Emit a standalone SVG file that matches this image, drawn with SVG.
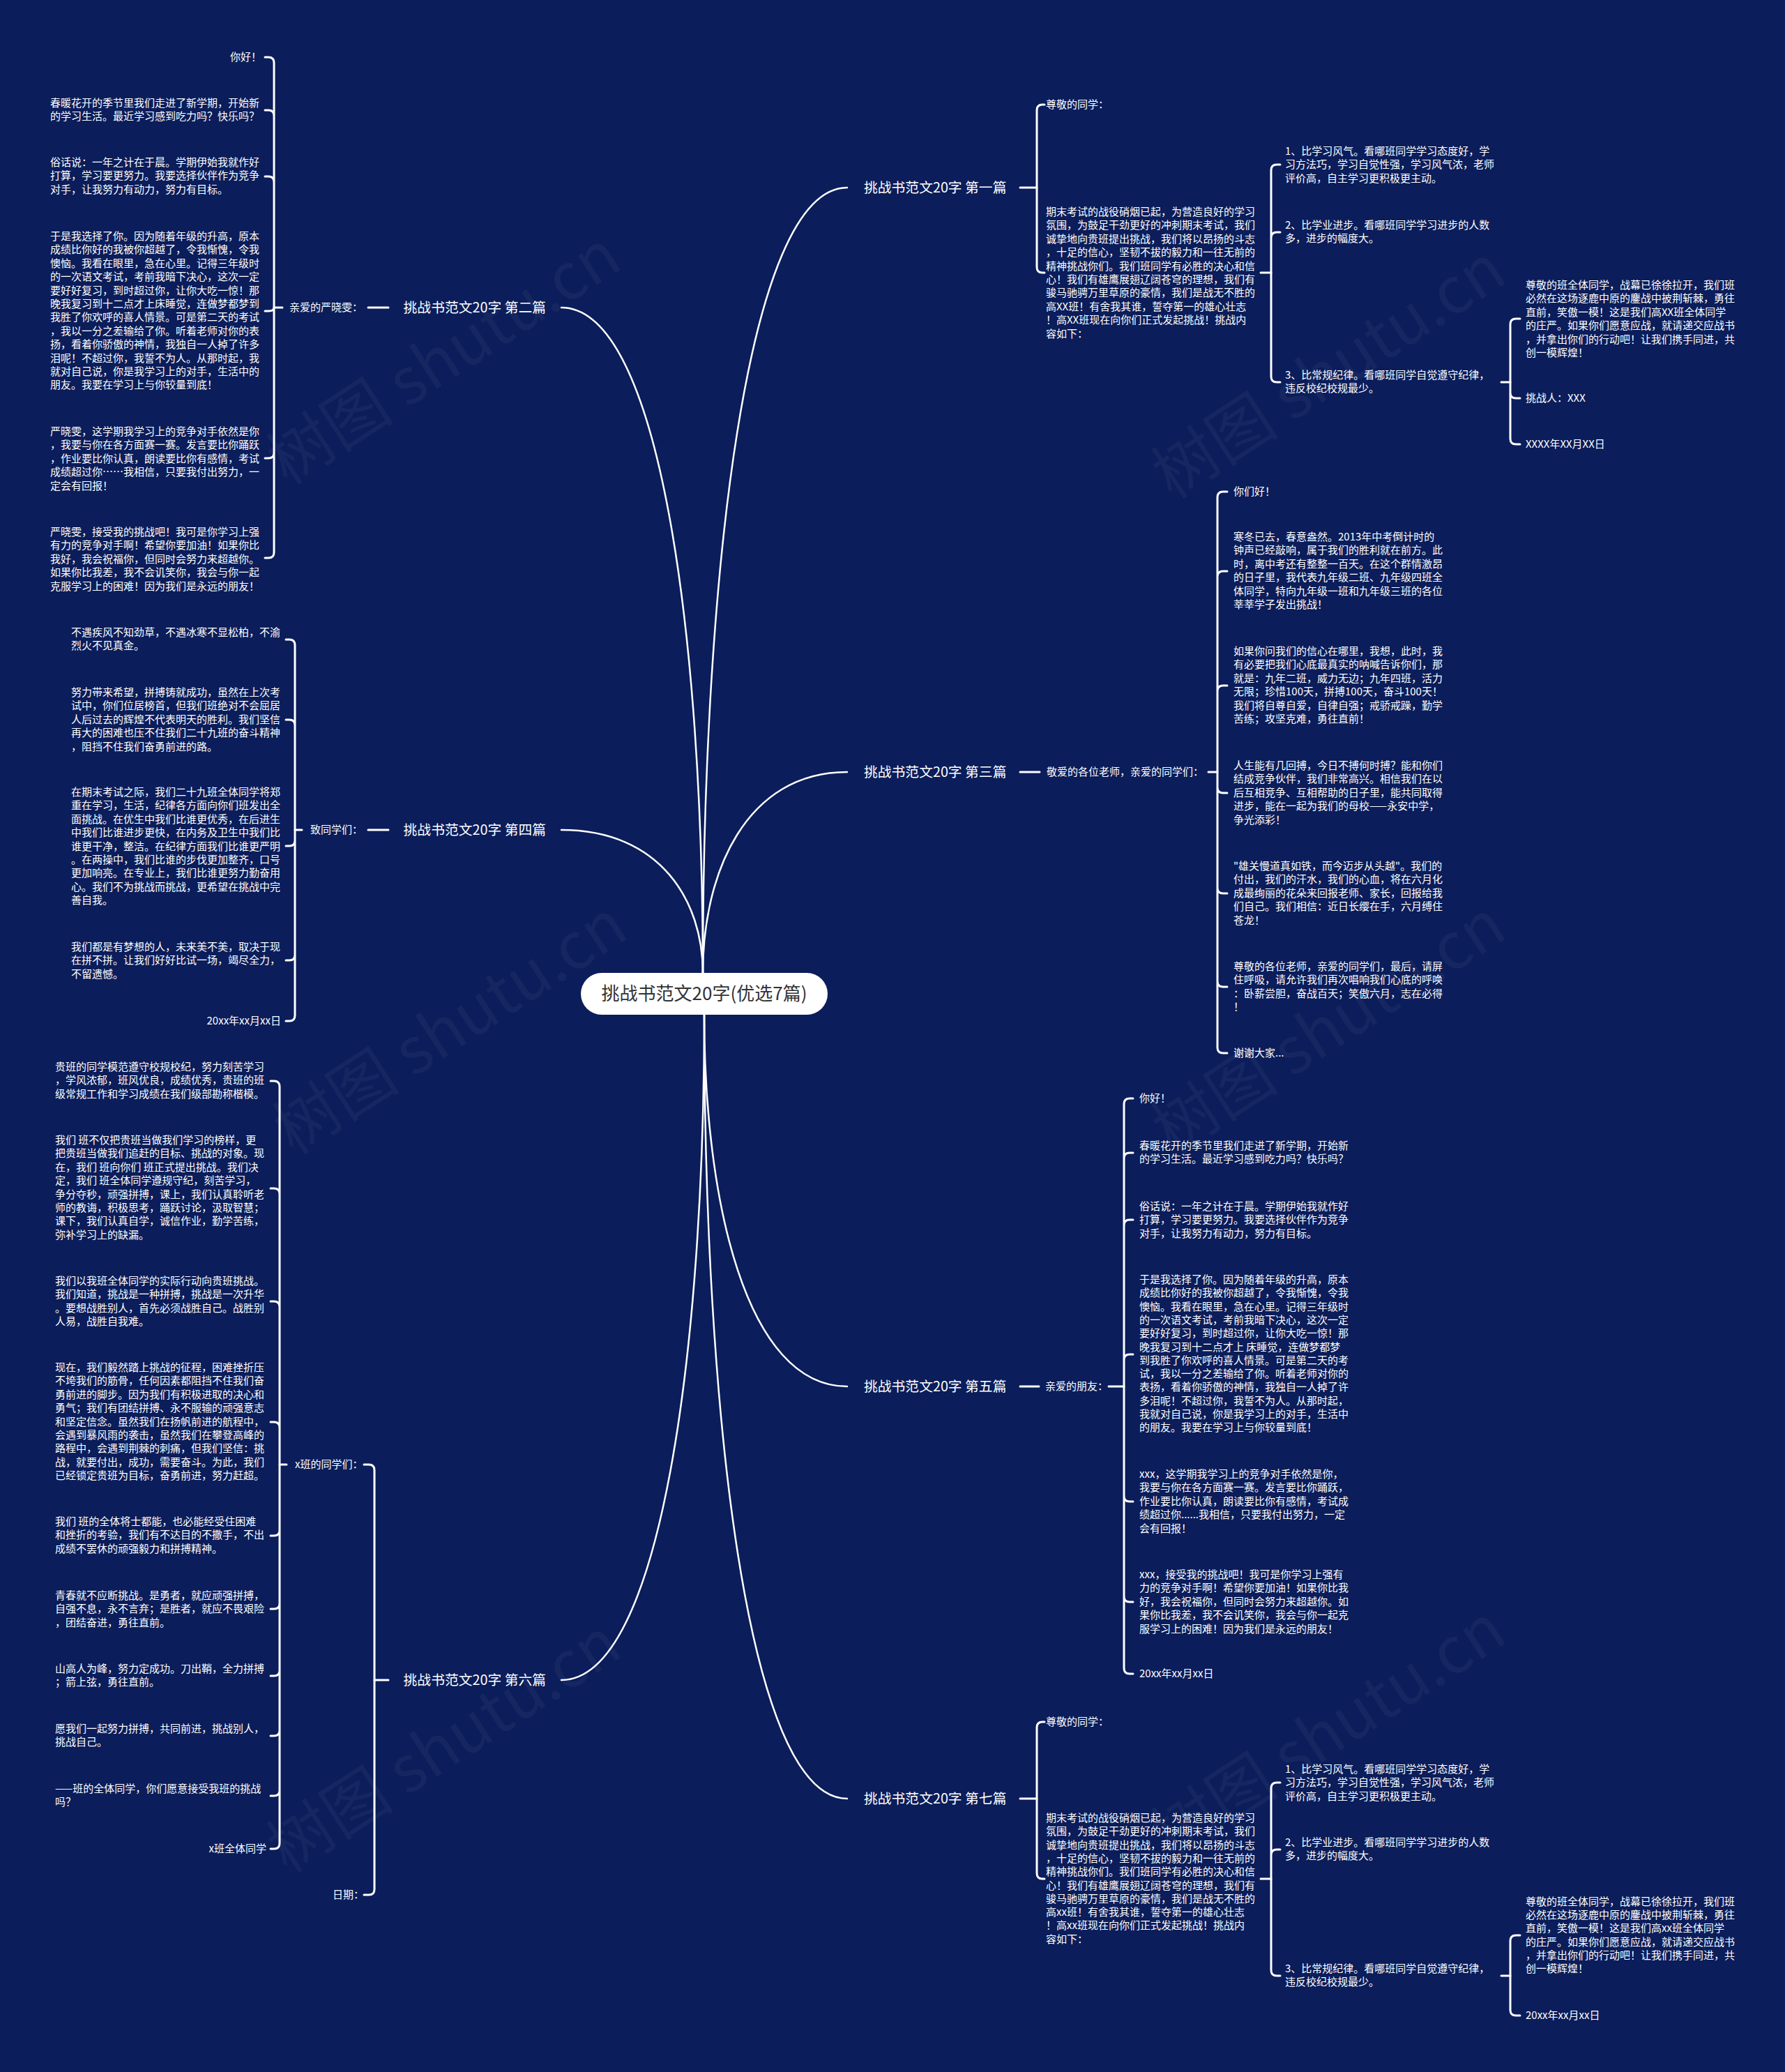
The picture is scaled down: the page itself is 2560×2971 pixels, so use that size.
<svg xmlns="http://www.w3.org/2000/svg" width="2560" height="2971" viewBox="0 0 2560 2971">
<style>
.t{font-family:"Noto Sans CJK SC","Noto Sans",sans-serif;font-size:15px;fill:#ffffff}
.e{text-anchor:end}
.b{font-family:"Noto Sans CJK SC","Noto Sans",sans-serif;font-size:19.8px;fill:#ffffff}
.ct{font-family:"Noto Sans CJK SC","Noto Sans",sans-serif;font-size:26px;fill:#333333;text-anchor:middle}
.wm{font-family:"Noto Sans CJK SC","Noto Sans",sans-serif;font-size:92px;fill:#ffffff;fill-opacity:0.045}
.m{fill:none;stroke:#ffffff;stroke-width:2.5;stroke-linecap:round}
.k{fill:none;stroke:#ffffff;stroke-width:3;stroke-linecap:round;stroke-linejoin:round}
</style>
<rect width="2560" height="2971" fill="#0b1d5a"/>
<g id="watermarks">
<text class="wm" transform="translate(654 540) rotate(-33)" text-anchor="middle">树图 shutu.cn</text>
<text class="wm" transform="translate(1923 560) rotate(-33)" text-anchor="middle">树图 shutu.cn</text>
<text class="wm" transform="translate(663 1500) rotate(-33)" text-anchor="middle">树图 shutu.cn</text>
<text class="wm" transform="translate(1923 1500) rotate(-33)" text-anchor="middle">树图 shutu.cn</text>
<text class="wm" transform="translate(654 2530) rotate(-33)" text-anchor="middle">树图 shutu.cn</text>
<text class="wm" transform="translate(1923 2510) rotate(-33)" text-anchor="middle">树图 shutu.cn</text>
</g>
<g id="connectors">
<path class="m" d="M1008 1395C1008 832 1070 269 1215 269"/>
<path class="m" d="M805 441C947 441 1008 918 1008 1395"/>
<path class="m" d="M1008 1395C1008 1251 1070 1107 1215 1107"/>
<path class="m" d="M805 1190C947 1190 1008 1292 1008 1395"/>
<path class="m" d="M1010 1455C1010 1722 1070 1988 1215 1988"/>
<path class="m" d="M805 2409C948 2409 1010 1932 1010 1455"/>
<path class="m" d="M1010 1455C1010 2017 1070 2579 1215 2579"/>
<path class="k" d="M528 441H557M393 441H405"/>
<path class="k" d="M393 441V90Q393 82 385 82H380M393 441V166Q393 158 385 158H380M393 441V261Q393 253 385 253H380M393 441Q393 446 385 446H380M393 441V649Q393 657 385 657H380M393 441V792Q393 800 385 800H380"/>
<path class="k" d="M528 1190H557M423 1190H433"/>
<path class="k" d="M423 1190V925Q423 917 415 917H410M423 1190V1040Q423 1032 415 1032H410M423 1190V1205Q423 1213 415 1213H410M423 1190V1369Q423 1377 415 1377H410M423 1190V1456Q423 1464 415 1464H410"/>
<path class="k" d="M537 2409H557M401 2100H411"/>
<path class="k" d="M537 2409V2108Q537 2100 529 2100H522M537 2409V2709Q537 2717 529 2717H522"/>
<path class="k" d="M401 2100V1558Q401 1550 393 1550H388M401 2100V1712Q401 1704 393 1704H388M401 2100V1874Q401 1866 393 1866H388M401 2100V2047Q401 2039 393 2039H388M401 2100V2194Q401 2202 393 2202H388M401 2100V2299Q401 2307 393 2307H388M401 2100V2395Q401 2403 393 2403H388M401 2100V2481Q401 2489 393 2489H388M401 2100V2567Q401 2575 393 2575H388M401 2100V2643Q401 2651 393 2651H388"/>
<path class="k" d="M1463 269H1487M1808 391H1823M2153 548H2166"/>
<path class="k" d="M1487 269V158Q1487 150 1495 150H1498M1487 269V383Q1487 391 1495 391H1498"/>
<path class="k" d="M1823 391V244Q1823 236 1831 236H1836M1823 391V341Q1823 333 1831 333H1836M1823 391V540Q1823 548 1831 548H1836"/>
<path class="k" d="M2166 548V465Q2166 457 2174 457H2180M2166 548V563Q2166 571 2174 571H2180M2166 548V629Q2166 637 2174 637H2180"/>
<path class="k" d="M1463 1107H1491M1733 1107H1746"/>
<path class="k" d="M1746 1107V713Q1746 705 1754 705H1760M1746 1107V827Q1746 819 1754 819H1760M1746 1107V991Q1746 983 1754 983H1760M1746 1107V1129Q1746 1137 1754 1137H1760M1746 1107V1273Q1746 1281 1754 1281H1760M1746 1107V1407Q1746 1415 1754 1415H1760M1746 1107V1502Q1746 1510 1754 1510H1760"/>
<path class="k" d="M1463 1988H1490M1590 1988H1612"/>
<path class="k" d="M1612 1988V1583Q1612 1575 1620 1575H1625M1612 1988V1661Q1612 1653 1620 1653H1625M1612 1988V1757Q1612 1749 1620 1749H1625M1612 1988V1950Q1612 1942 1620 1942H1625M1612 1988V2145Q1612 2153 1620 2153H1625M1612 1988V2289Q1612 2297 1620 2297H1625M1612 1988V2392Q1612 2400 1620 2400H1625"/>
<path class="k" d="M1463 2579H1487M1808 2694H1823M2153 2833H2166"/>
<path class="k" d="M1487 2579V2477Q1487 2469 1495 2469H1498M1487 2579V2686Q1487 2694 1495 2694H1498"/>
<path class="k" d="M1823 2694V2564Q1823 2556 1831 2556H1836M1823 2694V2660Q1823 2652 1831 2652H1836M1823 2694V2825Q1823 2833 1831 2833H1836"/>
<path class="k" d="M2166 2833V2783Q2166 2775 2174 2775H2180M2166 2833V2882Q2166 2890 2174 2890H2180"/>
</g>
<g id="center">
<rect x="833" y="1395" width="354" height="60" rx="30" fill="#ffffff"/>
<text class="ct" x="1010" y="1434">挑战书范文20字(优选7篇)</text>
</g>
<g id="branch1">
<text class="b" x="1239" y="276">挑战书范文20字 第一篇</text>
</g>
<g id="b1-n1"><text class="t" x="1500" y="155">尊敬的同学：</text></g>
<g id="b1-n2"><text class="t" x="1500" y="309"><tspan x="1500">期末考试的战役硝烟已起，为营造良好的学习</tspan><tspan x="1500" dy="19.4">氛围，为鼓足干劲更好的冲刺期末考试，我们</tspan><tspan x="1500" dy="19.4">诚挚地向贵班提出挑战，我们将以昂扬的斗志</tspan><tspan x="1500" dy="19.4">，十足的信心，坚韧不拔的毅力和一往无前的</tspan><tspan x="1500" dy="19.4">精神挑战你们。我们班同学有必胜的决心和信</tspan><tspan x="1500" dy="19.4">心！我们有雄鹰展翅辽阔苍穹的理想，我们有</tspan><tspan x="1500" dy="19.4">骏马驰骋万里草原的豪情，我们是战无不胜的</tspan><tspan x="1500" dy="19.4">高XX班！有舍我其谁，誓夺第一的雄心壮志</tspan><tspan x="1500" dy="19.4">！高XX班现在向你们正式发起挑战！挑战内</tspan><tspan x="1500" dy="19.4">容如下：</tspan></text></g>
<g id="b1-n3"><text class="t" x="1843" y="222"><tspan x="1843">1、比学习风气。看哪班同学学习态度好，学</tspan><tspan x="1843" dy="19.4">习方法巧，学习自觉性强，学习风气浓，老师</tspan><tspan x="1843" dy="19.4">评价高，自主学习更积极更主动。</tspan></text></g>
<g id="b1-n4"><text class="t" x="1843" y="328"><tspan x="1843">2、比学业进步。看哪班同学学习进步的人数</tspan><tspan x="1843" dy="19.4">多，进步的幅度大。</tspan></text></g>
<g id="b1-n5"><text class="t" x="1843" y="543"><tspan x="1843">3、比常规纪律。看哪班同学自觉遵守纪律，</tspan><tspan x="1843" dy="19.4">违反校纪校规最少。</tspan></text></g>
<g id="b1-n6"><text class="t" x="2188" y="414"><tspan x="2188">尊敬的班全体同学，战幕已徐徐拉开，我们班</tspan><tspan x="2188" dy="19.4">必然在这场逐鹿中原的鏖战中披荆斩棘，勇往</tspan><tspan x="2188" dy="19.4">直前，笑傲一模！这是我们高XX班全体同学</tspan><tspan x="2188" dy="19.4">的庄严。如果你们愿意应战，就请递交应战书</tspan><tspan x="2188" dy="19.4">，并拿出你们的行动吧！让我们携手同进，共</tspan><tspan x="2188" dy="19.4">创一模辉煌！</tspan></text></g>
<g id="b1-n7"><text class="t" x="2188" y="576">挑战人：XXX</text></g>
<g id="b1-n8"><text class="t" x="2188" y="642">XXXX年XX月XX日</text></g>
<g id="branch2">
<text class="b e" x="783" y="448">挑战书范文20字 第二篇</text>
</g>
<g id="b2-label"><text class="t" x="415" y="446">亲爱的严晓雯：</text></g>
<g id="b2-n1"><text class="t e" x="375" y="87">你好！</text></g>
<g id="b2-n2"><text class="t" x="72" y="153"><tspan x="72">春暖花开的季节里我们走进了新学期，开始新</tspan><tspan x="72" dy="19.4">的学习生活。最近学习感到吃力吗？快乐吗？</tspan></text></g>
<g id="b2-n3"><text class="t" x="72" y="238"><tspan x="72">俗话说：一年之计在于晨。学期伊始我就作好</tspan><tspan x="72" dy="19.4">打算，学习要更努力。我要选择伙伴作为竞争</tspan><tspan x="72" dy="19.4">对手，让我努力有动力，努力有目标。</tspan></text></g>
<g id="b2-n4"><text class="t" x="72" y="344"><tspan x="72">于是我选择了你。因为随着年级的升高，原本</tspan><tspan x="72" dy="19.4">成绩比你好的我被你超越了，令我惭愧，令我</tspan><tspan x="72" dy="19.4">懊恼。我看在眼里，急在心里。记得三年级时</tspan><tspan x="72" dy="19.4">的一次语文考试，考前我暗下决心，这次一定</tspan><tspan x="72" dy="19.4">要好好复习，到时超过你，让你大吃一惊！那</tspan><tspan x="72" dy="19.4">晚我复习到十二点才上床睡觉，连做梦都梦到</tspan><tspan x="72" dy="19.4">我胜了你欢呼的喜人情景。可是第二天的考试</tspan><tspan x="72" dy="19.4">，我以一分之差输给了你。听着老师对你的表</tspan><tspan x="72" dy="19.4">扬，看着你骄傲的神情，我独自一人掉了许多</tspan><tspan x="72" dy="19.4">泪呢！不超过你，我誓不为人。从那时起，我</tspan><tspan x="72" dy="19.4">就对自己说，你是我学习上的对手，生活中的</tspan><tspan x="72" dy="19.4">朋友。我要在学习上与你较量到底！</tspan></text></g>
<g id="b2-n5"><text class="t" x="72" y="624"><tspan x="72">严晓雯，这学期我学习上的竞争对手依然是你</tspan><tspan x="72" dy="19.4">，我要与你在各方面赛一赛。发言要比你踊跃</tspan><tspan x="72" dy="19.4">，作业要比你认真，朗读要比你有感情，考试</tspan><tspan x="72" dy="19.4">成绩超过你……我相信，只要我付出努力，一</tspan><tspan x="72" dy="19.4">定会有回报！</tspan></text></g>
<g id="b2-n6"><text class="t" x="72" y="768"><tspan x="72">严晓雯，接受我的挑战吧！我可是你学习上强</tspan><tspan x="72" dy="19.4">有力的竞争对手啊！希望你要加油！如果你比</tspan><tspan x="72" dy="19.4">我好，我会祝福你，但同时会努力来超越你。</tspan><tspan x="72" dy="19.4">如果你比我差，我不会讥笑你，我会与你一起</tspan><tspan x="72" dy="19.4">克服学习上的困难！因为我们是永远的朋友！</tspan></text></g>
<g id="branch3">
<text class="b" x="1239" y="1114">挑战书范文20字 第三篇</text>
</g>
<g id="b3-label"><text class="t" x="1501" y="1112">敬爱的各位老师，亲爱的同学们：</text></g>
<g id="b3-n1"><text class="t" x="1769" y="710">你们好！</text></g>
<g id="b3-n2"><text class="t" x="1769" y="775"><tspan x="1769">寒冬已去，春意盎然。2013年中考倒计时的</tspan><tspan x="1769" dy="19.4">钟声已经敲响，属于我们的胜利就在前方。此</tspan><tspan x="1769" dy="19.4">时，离中考还有整整一百天。在这个群情激昂</tspan><tspan x="1769" dy="19.4">的日子里，我代表九年级二班、九年级四班全</tspan><tspan x="1769" dy="19.4">体同学，特向九年级一班和九年级三班的各位</tspan><tspan x="1769" dy="19.4">莘莘学子发出挑战！</tspan></text></g>
<g id="b3-n3"><text class="t" x="1769" y="939"><tspan x="1769">如果你问我们的信心在哪里，我想，此时，我</tspan><tspan x="1769" dy="19.4">有必要把我们心底最真实的呐喊告诉你们，那</tspan><tspan x="1769" dy="19.4">就是：九年二班，威力无边；九年四班，活力</tspan><tspan x="1769" dy="19.4">无限；珍惜100天，拼搏100天，奋斗100天！</tspan><tspan x="1769" dy="19.4">我们将自尊自爱，自律自强；戒骄戒躁，勤学</tspan><tspan x="1769" dy="19.4">苦练；攻坚克难，勇往直前！</tspan></text></g>
<g id="b3-n4"><text class="t" x="1769" y="1103"><tspan x="1769">人生能有几回搏，今日不搏何时搏？能和你们</tspan><tspan x="1769" dy="19.4">结成竞争伙伴，我们非常高兴。相信我们在以</tspan><tspan x="1769" dy="19.4">后互相竞争、互相帮助的日子里，能共同取得</tspan><tspan x="1769" dy="19.4">进步，能在一起为我们的母校——永安中学，</tspan><tspan x="1769" dy="19.4">争光添彩！</tspan></text></g>
<g id="b3-n5"><text class="t" x="1769" y="1247"><tspan x="1769">"雄关慢道真如铁，而今迈步从头越"。我们的</tspan><tspan x="1769" dy="19.4">付出，我们的汗水，我们的心血，将在六月化</tspan><tspan x="1769" dy="19.4">成最绚丽的花朵来回报老师、家长，回报给我</tspan><tspan x="1769" dy="19.4">们自己。我们相信：近日长缨在手，六月缚住</tspan><tspan x="1769" dy="19.4">苍龙！</tspan></text></g>
<g id="b3-n6"><text class="t" x="1769" y="1391"><tspan x="1769">尊敬的各位老师，亲爱的同学们，最后，请屏</tspan><tspan x="1769" dy="19.4">住呼吸，请允许我们再次唱响我们心底的呼唤</tspan><tspan x="1769" dy="19.4">：卧薪尝胆，奋战百天；笑傲六月，志在必得</tspan><tspan x="1769" dy="19.4">！</tspan></text></g>
<g id="b3-n7"><text class="t" x="1769" y="1515">谢谢大家...</text></g>
<g id="branch4">
<text class="b e" x="783" y="1197">挑战书范文20字 第四篇</text>
</g>
<g id="b4-label"><text class="t" x="445" y="1195">致同学们：</text></g>
<g id="b4-n1"><text class="t" x="102" y="912"><tspan x="102">不遇疾风不知劲草，不遇冰寒不显松柏，不渝</tspan><tspan x="102" dy="19.4">烈火不见真金。</tspan></text></g>
<g id="b4-n2"><text class="t" x="102" y="998"><tspan x="102">努力带来希望，拼搏铸就成功，虽然在上次考</tspan><tspan x="102" dy="19.4">试中，你们位居榜首，但我们班绝对不会屈居</tspan><tspan x="102" dy="19.4">人后过去的辉煌不代表明天的胜利。我们坚信</tspan><tspan x="102" dy="19.4">再大的困难也压不住我们二十九班的奋斗精神</tspan><tspan x="102" dy="19.4">，阻挡不住我们奋勇前进的路。</tspan></text></g>
<g id="b4-n3"><text class="t" x="102" y="1141"><tspan x="102">在期末考试之际，我们二十九班全体同学将郑</tspan><tspan x="102" dy="19.4">重在学习，生活，纪律各方面向你们班发出全</tspan><tspan x="102" dy="19.4">面挑战。在优生中我们比谁更优秀，在后进生</tspan><tspan x="102" dy="19.4">中我们比谁进步更快，在内务及卫生中我们比</tspan><tspan x="102" dy="19.4">谁更干净，整洁。在纪律方面我们比谁更严明</tspan><tspan x="102" dy="19.4">。在两操中，我们比谁的步伐更加整齐，口号</tspan><tspan x="102" dy="19.4">更加响亮。在专业上，我们比谁更努力勤奋用</tspan><tspan x="102" dy="19.4">心。我们不为挑战而挑战，更希望在挑战中完</tspan><tspan x="102" dy="19.4">善自我。</tspan></text></g>
<g id="b4-n4"><text class="t" x="102" y="1363"><tspan x="102">我们都是有梦想的人，未来美不美，取决于现</tspan><tspan x="102" dy="19.4">在拼不拼。让我们好好比试一场，竭尽全力，</tspan><tspan x="102" dy="19.4">不留遗憾。</tspan></text></g>
<g id="b4-n5"><text class="t e" x="403" y="1469">20xx年xx月xx日</text></g>
<g id="branch5">
<text class="b" x="1239" y="1995">挑战书范文20字 第五篇</text>
</g>
<g id="b5-label"><text class="t" x="1499" y="1993">亲爱的朋友：</text></g>
<g id="b5-n1"><text class="t" x="1634" y="1580">你好！</text></g>
<g id="b5-n2"><text class="t" x="1634" y="1648"><tspan x="1634">春暖花开的季节里我们走进了新学期，开始新</tspan><tspan x="1634" dy="19.4">的学习生活。最近学习感到吃力吗？快乐吗？</tspan></text></g>
<g id="b5-n3"><text class="t" x="1634" y="1735"><tspan x="1634">俗话说：一年之计在于晨。学期伊始我就作好</tspan><tspan x="1634" dy="19.4">打算，学习要更努力。我要选择伙伴作为竞争</tspan><tspan x="1634" dy="19.4">对手，让我努力有动力，努力有目标。</tspan></text></g>
<g id="b5-n4"><text class="t" x="1634" y="1840"><tspan x="1634">于是我选择了你。因为随着年级的升高，原本</tspan><tspan x="1634" dy="19.3">成绩比你好的我被你超越了，令我惭愧，令我</tspan><tspan x="1634" dy="19.3">懊恼。我看在眼里，急在心里。记得三年级时</tspan><tspan x="1634" dy="19.3">的一次语文考试，考前我暗下决心，这次一定</tspan><tspan x="1634" dy="19.3">要好好复习，到时超过你，让你大吃一惊！那</tspan><tspan x="1634" dy="19.3">晚我复习到十二点才上 床睡觉，连做梦都梦</tspan><tspan x="1634" dy="19.3">到我胜了你欢呼的喜人情景。可是第二天的考</tspan><tspan x="1634" dy="19.3">试，我以一分之差输给了你。听着老师对你的</tspan><tspan x="1634" dy="19.3">表扬，看着你骄傲的神情，我独自一人掉了许</tspan><tspan x="1634" dy="19.3">多泪呢！不超过你，我誓不为人。从那时起，</tspan><tspan x="1634" dy="19.3">我就对自己说，你是我学习上的对手，生活中</tspan><tspan x="1634" dy="19.3">的朋友。我要在学习上与你较量到底！</tspan></text></g>
<g id="b5-n5"><text class="t" x="1634" y="2119"><tspan x="1634">xxx，这学期我学习上的竞争对手依然是你，</tspan><tspan x="1634" dy="19.4">我要与你在各方面赛一赛。发言要比你踊跃，</tspan><tspan x="1634" dy="19.4">作业要比你认真，朗读要比你有感情，考试成</tspan><tspan x="1634" dy="19.4">绩超过你......我相信，只要我付出努力，一定</tspan><tspan x="1634" dy="19.4">会有回报！</tspan></text></g>
<g id="b5-n6"><text class="t" x="1634" y="2263"><tspan x="1634">xxx，接受我的挑战吧！我可是你学习上强有</tspan><tspan x="1634" dy="19.4">力的竞争对手啊！希望你要加油！如果你比我</tspan><tspan x="1634" dy="19.4">好，我会祝福你，但同时会努力来超越你。如</tspan><tspan x="1634" dy="19.4">果你比我差，我不会讥笑你，我会与你一起克</tspan><tspan x="1634" dy="19.4">服学习上的困难！因为我们是永远的朋友！</tspan></text></g>
<g id="b5-n7"><text class="t" x="1634" y="2405">20xx年xx月xx日</text></g>
<g id="branch6">
<text class="b e" x="783" y="2416">挑战书范文20字 第六篇</text>
</g>
<g id="b6-label"><text class="t" x="423" y="2105">x班的同学们：</text></g>
<g id="b6-date"><text class="t e" x="522" y="2722">日期：</text></g>
<g id="b6-n1"><text class="t" x="79" y="1535"><tspan x="79">贵班的同学模范遵守校规校纪，努力刻苦学习</tspan><tspan x="79" dy="19.4">，学风浓郁，班风优良，成绩优秀，贵班的班</tspan><tspan x="79" dy="19.4">级常规工作和学习成绩在我们级部勘称楷模。</tspan></text></g>
<g id="b6-n2"><text class="t" x="79" y="1640"><tspan x="79">我们 班不仅把贵班当做我们学习的榜样，更</tspan><tspan x="79" dy="19.4">把贵班当做我们追赶的目标、挑战的对象。现</tspan><tspan x="79" dy="19.4">在，我们 班向你们 班正式提出挑战。我们决</tspan><tspan x="79" dy="19.4">定，我们 班全体同学遵规守纪，刻苦学习，</tspan><tspan x="79" dy="19.4">争分夺秒，顽强拼搏，课上，我们认真聆听老</tspan><tspan x="79" dy="19.4">师的教诲，积极思考，踊跃讨论，汲取智慧；</tspan><tspan x="79" dy="19.4">课下，我们认真自学，诚信作业，勤学苦练，</tspan><tspan x="79" dy="19.4">弥补学习上的缺漏。</tspan></text></g>
<g id="b6-n3"><text class="t" x="79" y="1842"><tspan x="79">我们以我班全体同学的实际行动向贵班挑战。</tspan><tspan x="79" dy="19.4">我们知道，挑战是一种拼搏，挑战是一次升华</tspan><tspan x="79" dy="19.4">。要想战胜别人，首先必须战胜自己。战胜别</tspan><tspan x="79" dy="19.4">人易，战胜自我难。</tspan></text></g>
<g id="b6-n4"><text class="t" x="79" y="1966"><tspan x="79">现在，我们毅然踏上挑战的征程，困难挫折压</tspan><tspan x="79" dy="19.4">不垮我们的筋骨，任何因素都阻挡不住我们奋</tspan><tspan x="79" dy="19.4">勇前进的脚步。因为我们有积极进取的决心和</tspan><tspan x="79" dy="19.4">勇气；我们有团结拼搏、永不服输的顽强意志</tspan><tspan x="79" dy="19.4">和坚定信念。虽然我们在扬帆前进的航程中，</tspan><tspan x="79" dy="19.4">会遇到暴风雨的袭击，虽然我们在攀登高峰的</tspan><tspan x="79" dy="19.4">路程中，会遇到荆棘的刺痛，但我们坚信：挑</tspan><tspan x="79" dy="19.4">战，就要付出，成功，需要奋斗。为此，我们</tspan><tspan x="79" dy="19.4">已经锁定贵班为目标，奋勇前进，努力赶超。</tspan></text></g>
<g id="b6-n5"><text class="t" x="79" y="2187"><tspan x="79">我们 班的全体将士都能，也必能经受住困难</tspan><tspan x="79" dy="19.4">和挫折的考验，我们有不达目的不撒手，不出</tspan><tspan x="79" dy="19.4">成绩不罢休的顽强毅力和拼搏精神。</tspan></text></g>
<g id="b6-n6"><text class="t" x="79" y="2293"><tspan x="79">青春就不应断挑战。是勇者，就应顽强拼搏，</tspan><tspan x="79" dy="19.4">自强不息，永不言弃；是胜者，就应不畏艰险</tspan><tspan x="79" dy="19.4">，团结奋进，勇往直前。</tspan></text></g>
<g id="b6-n7"><text class="t" x="79" y="2398"><tspan x="79">山高人为峰，努力定成功。刀出鞘，全力拼搏</tspan><tspan x="79" dy="19.4">；箭上弦，勇往直前。</tspan></text></g>
<g id="b6-n8"><text class="t" x="79" y="2484"><tspan x="79">愿我们一起努力拼搏，共同前进，挑战别人，</tspan><tspan x="79" dy="19.4">挑战自己。</tspan></text></g>
<g id="b6-n9"><text class="t" x="79" y="2570"><tspan x="79">——班的全体同学，你们愿意接受我班的挑战</tspan><tspan x="79" dy="19.4">吗？</tspan></text></g>
<g id="b6-n10"><text class="t e" x="382" y="2656">x班全体同学</text></g>
<g id="branch7">
<text class="b" x="1239" y="2586">挑战书范文20字 第七篇</text>
</g>
<g id="b7-n1"><text class="t" x="1500" y="2474">尊敬的同学：</text></g>
<g id="b7-n2"><text class="t" x="1500" y="2612"><tspan x="1500">期末考试的战役硝烟已起，为营造良好的学习</tspan><tspan x="1500" dy="19.3">氛围，为鼓足干劲更好的冲刺期末考试，我们</tspan><tspan x="1500" dy="19.3">诚挚地向贵班提出挑战，我们将以昂扬的斗志</tspan><tspan x="1500" dy="19.3">，十足的信心，坚韧不拔的毅力和一往无前的</tspan><tspan x="1500" dy="19.3">精神挑战你们。我们班同学有必胜的决心和信</tspan><tspan x="1500" dy="19.3">心！我们有雄鹰展翅辽阔苍穹的理想，我们有</tspan><tspan x="1500" dy="19.3">骏马驰骋万里草原的豪情，我们是战无不胜的</tspan><tspan x="1500" dy="19.3">高xx班！有舍我其谁，誓夺第一的雄心壮志</tspan><tspan x="1500" dy="19.3">！高xx班现在向你们正式发起挑战！挑战内</tspan><tspan x="1500" dy="19.3">容如下：</tspan></text></g>
<g id="b7-n3"><text class="t" x="1843" y="2542"><tspan x="1843">1、比学习风气。看哪班同学学习态度好，学</tspan><tspan x="1843" dy="19.4">习方法巧，学习自觉性强，学习风气浓，老师</tspan><tspan x="1843" dy="19.4">评价高，自主学习更积极更主动。</tspan></text></g>
<g id="b7-n4"><text class="t" x="1843" y="2647"><tspan x="1843">2、比学业进步。看哪班同学学习进步的人数</tspan><tspan x="1843" dy="19.4">多，进步的幅度大。</tspan></text></g>
<g id="b7-n5"><text class="t" x="1843" y="2828"><tspan x="1843">3、比常规纪律。看哪班同学自觉遵守纪律，</tspan><tspan x="1843" dy="19.4">违反校纪校规最少。</tspan></text></g>
<g id="b7-n6"><text class="t" x="2188" y="2732"><tspan x="2188">尊敬的班全体同学，战幕已徐徐拉开，我们班</tspan><tspan x="2188" dy="19.2">必然在这场逐鹿中原的鏖战中披荆斩棘，勇往</tspan><tspan x="2188" dy="19.2">直前，笑傲一模！这是我们高xx班全体同学</tspan><tspan x="2188" dy="19.2">的庄严。如果你们愿意应战，就请递交应战书</tspan><tspan x="2188" dy="19.2">，并拿出你们的行动吧！让我们携手同进，共</tspan><tspan x="2188" dy="19.2">创一模辉煌！</tspan></text></g>
<g id="b7-n7"><text class="t" x="2188" y="2895">20xx年xx月xx日</text></g>
</svg>
